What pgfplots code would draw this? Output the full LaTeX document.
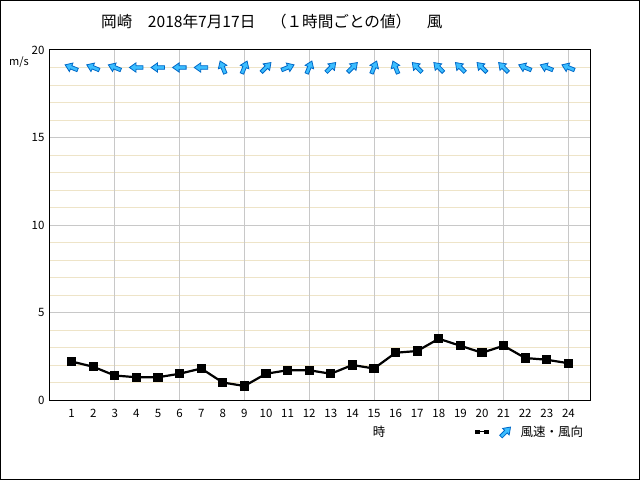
\documentclass[border=0pt]{standalone}
\usepackage{pgfplots}
\usepackage{pgfplotstable}
\pgfplotsset{compat=1.18}
\usepackage{fontspec}
\setmainfont{Noto Sans CJK JP}
\definecolor{gridmaj}{RGB}{200,200,200}
\definecolor{gridmin}{RGB}{238,228,200}
\definecolor{arrfill}{RGB}{60,190,255}
\definecolor{arrdraw}{RGB}{0,105,200}
\pgfdeclareplotmark{wind}{%
  \pgfpathmoveto{\pgfqpoint{-6.5pt}{-1.8pt}}%
  \pgfpathlineto{\pgfqpoint{0.5pt}{-1.8pt}}%
  \pgfpathlineto{\pgfqpoint{0.5pt}{-4.6pt}}%
  \pgfpathlineto{\pgfqpoint{7pt}{0pt}}%
  \pgfpathlineto{\pgfqpoint{0.5pt}{4.6pt}}%
  \pgfpathlineto{\pgfqpoint{0.5pt}{1.8pt}}%
  \pgfpathlineto{\pgfqpoint{-6.5pt}{1.8pt}}%
  \pgfpathclose
  \pgfsetfillcolor{arrfill}\pgfsetstrokecolor{arrdraw}\pgfsetlinewidth{0.8pt}%
  \pgfusepathqfillstroke
}
\pgfplotstableread{
h v
1 2.2
2 1.9
3 1.4
4 1.3
5 1.3
6 1.5
7 1.8
8 1.0
9 0.8
10 1.5
11 1.7
12 1.7
13 1.5
14 2.0
15 1.8
16 2.7
17 2.8
18 3.5
19 3.1
20 2.7
21 3.1
22 2.4
23 2.3
24 2.1
}\speed
\pgfplotstableread{
h y ang
1 19 157.5
2 19 157.5
3 19 157.5
4 19 180
5 19 180
6 19 180
7 19 180
8 19 112.5
9 19 67.5
10 19 45
11 19 22.5
12 19 67.5
13 19 45
14 19 45
15 19 67.5
16 19 112.5
17 19 135
18 19 135
19 19 135
20 19 135
21 19 135
22 19 157.5
23 19 157.5
24 19 157.5
}\dir
\begin{document}
\begin{tikzpicture}
\useasboundingbox (-50pt,-80pt) rectangle (590pt,400pt);
\begin{axis}[
  scale only axis, width=540pt, height=350pt,
  at={(0pt,0pt)}, anchor=south west,
  xmin=0, xmax=25, ymin=0, ymax=20,
  xtick={1,...,24}, ytick={0,5,10,15,20},
  minor ytick={1,2,3,4,6,7,8,9,11,12,13,14,16,17,18,19},
  major tick length=0pt, minor tick length=0pt,
  ymajorgrids, yminorgrids,
  extra x ticks={3,6,9,12,15,18,21,24}, extra x tick labels={},
  extra x tick style={grid=major},
  major grid style={gridmaj, line width=1pt},
  minor grid style={gridmin, line width=1pt},
  axis line style={black, line width=1pt},
  /pgf/number format/assume math mode=true,
  ticklabel style={font=\fontsize{11.5}{11.5}\selectfont},
  xticklabel style={yshift=-6pt},
  yticklabel style={xshift=-2pt},
  legend style={draw=none, fill=none, at={(0.787,-0.0914)}, anchor=west,
    font=\fontsize{12.5}{12.5}\selectfont, inner sep=0pt},
  legend cell align=left,
]
\addplot[black, line width=2.2pt, mark=square*, mark size=3.5pt,
  legend image code/.code={
    \draw[black, line width=1pt] (0pt,0pt) -- (9pt,0pt);
    \fill[black] (-1.3pt,-1.3pt) rectangle (1.3pt,1.3pt);
    \fill[black] (7.7pt,-1.3pt) rectangle (10.3pt,1.3pt);
    \begin{scope}[shift={(28pt,0pt)}, rotate=45]
      \pgfuseplotmark{wind}
    \end{scope}
    \path[draw=none, fill=none] (41pt,-1pt) rectangle (41.1pt,1pt);
  }] table[x=h, y=v] {\speed};
\addlegendentry{風速・風向}
\addplot[scatter, only marks, mark=wind,
  visualization depends on={\thisrow{ang} \as \myang},
  scatter/@pre marker code/.append style={/tikz/rotate=\myang},
  forget plot] table[x=h, y=y] {\dir};
\end{axis}
\node[anchor=west, font=\fontsize{15.6}{15.6}\selectfont, inner sep=0pt] at (51pt,378pt) {岡崎　2018年7月17日　（１時間ごとの値）　風};
\node[font=\fontsize{11}{11}\selectfont] at (-31pt,338pt) {m/s};
\node[font=\fontsize{12.5}{12.5}\selectfont] at (329pt,-32pt) {時};
\draw[black, line width=1pt] (-49.5pt,-79.5pt) rectangle (589.5pt,399.5pt);
\end{tikzpicture}
\end{document}
